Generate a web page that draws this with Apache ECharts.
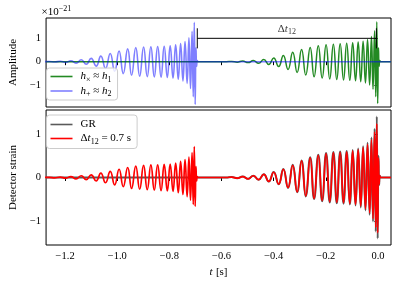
<!DOCTYPE html>
<html><head><meta charset="utf-8">
<script src="https://cdn.jsdelivr.net/npm/echarts@6/dist/echarts.min.js"></script>
<style>html,body{margin:0;padding:0;background:#fff}#c{width:399px;height:284px}</style>
</head><body><div id="c"></div>
<script>
// ---- data ----
const xTicks = [-1.2, -1.0, -0.8, -0.6, -0.4, -0.2, 0.0];
const yTicksTop = [-1, 0, 1];
const yTicksBottom = [-1, 0, 1];
const xMin = -1.273, xMax = 0.05;
const yTopMin = -1.94, yTopMax = 1.87;
const yBotMin = -1.55, yBotMax = 1.55;

// times of successive extrema relative to each merger [s]
const tau = [-0.582, -0.561, -0.540, -0.519, -0.498, -0.478, -0.458, -0.438, -0.419, -0.400,
  -0.381, -0.363, -0.345, -0.327, -0.310, -0.293, -0.277, -0.260, -0.245, -0.229,
  -0.214, -0.199, -0.185, -0.171, -0.158, -0.145, -0.132, -0.120, -0.108, -0.097,
  -0.086, -0.076, -0.066, -0.057, -0.048, -0.040, -0.032, -0.025, -0.019, -0.013,
  -0.0085, -0.0045, -0.001, 0.002, 0.0045, 0.007, 0.010];

// merger times [s]
const mergerH1 = 0.0;
const mergerH2 = -0.7;

// extremum values (units of 1e-21)
const hCross = [0, 0.01, -0.02, 0.03, -0.04, 0.05, -0.07, 0.09, -0.12, 0.16,
  -0.21, 0.27, -0.33, 0.40, -0.46, 0.52, -0.57, 0.61, -0.65, 0.68,
  -0.70, 0.72, -0.74, 0.75, -0.76, 0.77, -0.78, 0.79, -0.80, 0.81,
  -0.82, 0.84, -0.86, 0.88, -0.91, 0.95, -1.00, 1.08, -1.18, 1.32,
  -1.50, 1.71, -1.79, 0.6, -0.2, 0.05, 0];
const hPlus = [0, 0.01, -0.015, 0.02, -0.03, 0.04, -0.06, 0.08, -0.11, 0.14,
  -0.19, 0.24, -0.29, 0.35, -0.41, 0.46, -0.51, 0.55, -0.58, 0.60,
  -0.62, 0.63, -0.64, 0.64, -0.65, 0.65, -0.66, 0.66, -0.67, 0.68,
  -0.70, 0.72, -0.75, 0.78, -0.82, 0.86, -0.93, 1.02, -1.15, 1.30,
  -1.50, 1.69, -1.83, 0.6, -0.2, 0.05, 0];
const strainFirst = [0, 0.005, -0.01, 0.01, -0.015, 0.02, -0.03, 0.04, -0.05, 0.06,
  -0.08, 0.10, -0.12, 0.14, -0.17, 0.19, -0.21, 0.23, -0.25, 0.26,
  -0.27, 0.28, -0.28, 0.29, -0.29, 0.29, -0.30, 0.30, -0.31, 0.31,
  -0.32, 0.33, -0.35, 0.37, -0.39, 0.41, -0.44, 0.47, -0.52, 0.57,
  -0.62, 0.71, -0.66, 0.25, -0.08, 0.02, 0];
const strainSecond = [0, 0.01, -0.015, 0.02, -0.03, 0.04, -0.05, 0.07, -0.09, 0.12,
  -0.15, 0.19, -0.23, 0.28, -0.33, 0.38, -0.42, 0.45, -0.48, 0.51,
  -0.53, 0.55, -0.56, 0.57, -0.57, 0.58, -0.58, 0.59, -0.60, 0.61,
  -0.62, 0.64, -0.66, 0.69, -0.72, 0.76, -0.81, 0.87, -0.95, 1.05,
  -1.15, 1.24, -1.27, 0.45, -0.15, 0.04, 0];
const strainGR = [0, 0.01, -0.015, 0.021, -0.031, 0.042, -0.053, 0.073, -0.094, 0.125,
  -0.155, 0.195, -0.24, 0.29, -0.34, 0.39, -0.435, 0.465, -0.495, 0.525,
  -0.545, 0.565, -0.575, 0.585, -0.59, 0.595, -0.60, 0.61, -0.62, 0.63,
  -0.645, 0.665, -0.69, 0.72, -0.755, 0.80, -0.855, 0.92, -1.01, 1.12,
  -1.24, 1.40, -1.40, 0.5, -0.17, 0.04, 0];

// Delta t annotation
const dtStart = -0.693, dtEnd = -0.006, dtLevel = 1.0, capLow = 0.57, capHigh = 1.43;

// ---- chart ----
const FONT = 'Liberation Serif';
function chirp(tc, vals) { return tau.map((t, i) => [tc + t, vals[i]]); }
const minus = s => String(s).replace('-', '\u2212');
const rich = {
  i: { fontFamily: FONT, fontStyle: 'italic', fontSize: 11, color: '#000' },
  n: { fontFamily: FONT, fontSize: 11, color: '#000' },
  sb: { fontFamily: FONT, fontSize: 8, color: '#000', padding: [6, 0, 0, 0] },
  sp: { fontFamily: FONT, fontSize: 8, color: '#000', padding: [0, 0, 7, 0] }
};
const legendNames = {
  hx: '{i|h}{sb|\u00d7}{n| \u2248 }{i|h}{sb|1}',
  hp: '{i|h}{sb|+}{n| \u2248 }{i|h}{sb|2}',
  gr: '{n|GR}',
  dt: '{n|\u0394}{i|t}{sb|12}{n| = 0.7 s}'
};

const chart = echarts.init(document.getElementById('c'), null, { renderer: 'canvas' });
const axisCommon = {
  type: 'value',
  axisLine: { show: false },
  splitLine: { show: false },
  axisTick: { inside: false, length: 3.5, lineStyle: { color: '#000', width: 1 } },
  axisLabel: { fontFamily: FONT, fontSize: 10.5, color: '#000' }
};
const legendCommon = {
  orient: 'vertical', itemWidth: 22, itemHeight: 1.6, icon: 'rect',
  backgroundColor: 'rgba(255,255,255,0.8)', borderColor: '#ccc', borderWidth: 1, borderRadius: 3,
  textStyle: { fontFamily: FONT, fontSize: 11, color: '#000', rich: rich, padding: [0, 0, 0, 3] },
  formatter: n => legendNames[n], selectedMode: false
};

chart.setOption({
  animation: false,
  backgroundColor: '#fff',
  grid: [
    { left: 41.5, right: 8, top: 18, height: 89, show: true, borderColor: '#000', borderWidth: 1, backgroundColor: 'transparent' },
    { left: 41.5, right: 8, top: 110, height: 135, show: true, borderColor: '#000', borderWidth: 1, backgroundColor: 'transparent' }
  ],
  xAxis: [
    Object.assign({}, axisCommon, { gridIndex: 0, min: xMin, max: xMax,
      axisTick: Object.assign({}, axisCommon.axisTick, { customValues: xTicks }),
      axisLabel: { show: false } }),
    Object.assign({}, axisCommon, { gridIndex: 1, min: xMin, max: xMax,
      axisTick: Object.assign({}, axisCommon.axisTick, { customValues: xTicks }),
      axisLabel: Object.assign({}, axisCommon.axisLabel, { customValues: xTicks, margin: 6, formatter: v => minus(v.toFixed(1)) }),
      name: '{i|t} {n|[s]}', nameLocation: 'middle', nameGap: 21,
      nameTextStyle: { rich: rich } })
  ],
  yAxis: [
    Object.assign({}, axisCommon, { gridIndex: 0, min: yTopMin, max: yTopMax,
      axisTick: Object.assign({}, axisCommon.axisTick, { customValues: yTicksTop }),
      axisLabel: Object.assign({}, axisCommon.axisLabel, { customValues: yTicksTop, margin: 5, formatter: v => minus(v) }),
      name: 'Amplitude', nameLocation: 'middle', nameGap: 27, nameRotate: 90,
      nameTextStyle: { fontFamily: FONT, fontSize: 11, color: '#000' } }),
    Object.assign({}, axisCommon, { gridIndex: 1, min: yBotMin, max: yBotMax,
      axisTick: Object.assign({}, axisCommon.axisTick, { customValues: yTicksBottom }),
      axisLabel: Object.assign({}, axisCommon.axisLabel, { customValues: yTicksBottom, margin: 5, formatter: v => minus(v) }),
      name: 'Detector strain', nameLocation: 'middle', nameGap: 27, nameRotate: 90,
      nameTextStyle: { fontFamily: FONT, fontSize: 11, color: '#000' } })
  ],
  legend: [
    Object.assign({}, legendCommon, { data: ['hx', 'hp'], left: 46.5, top: 68, padding: [3, 6, 2, 4], itemGap: 2 }),
    Object.assign({}, legendCommon, { data: ['gr', 'dt'], left: 46.5, top: 115, padding: [4, 6, 3, 4], itemGap: 3 })
  ],
  graphic: [
    { type: 'text', left: 41.5, top: 5, style: { text: '{n|\u00d710}{sp|\u221221}', rich: rich } }
  ],
  series: [
    { name: 'hx', type: 'line', xAxisIndex: 0, yAxisIndex: 0, symbol: 'none', smooth: 0.5,
      lineStyle: { color: '#238a23', width: 1.5 }, itemStyle: { color: '#238a23' },
      data: [[xMin, 0]].concat(chirp(mergerH1, hCross), [[xMax, 0]]) },
    { name: 'hp', type: 'line', xAxisIndex: 0, yAxisIndex: 0, symbol: 'none', smooth: 0.5,
      lineStyle: { color: '#0000ff', width: 1.6, opacity: 0.5 }, itemStyle: { color: '#8080ff' },
      data: chirp(mergerH2, hPlus).concat([[xMax, 0]]) },
    { type: 'line', xAxisIndex: 0, yAxisIndex: 0, symbol: 'none', silent: true, z: 5,
      lineStyle: { color: '#000', width: 1 }, data: [[dtStart, dtLevel], [dtEnd, dtLevel]] },
    { type: 'line', xAxisIndex: 0, yAxisIndex: 0, symbol: 'none', silent: true, z: 5,
      lineStyle: { color: '#000', width: 1 }, data: [[dtStart, capLow], [dtStart, capHigh]] },
    { type: 'line', xAxisIndex: 0, yAxisIndex: 0, symbol: 'none', silent: true, z: 5,
      lineStyle: { color: '#000', width: 1 }, data: [[dtEnd, capLow], [dtEnd, capHigh]] },
    { type: 'scatter', xAxisIndex: 0, yAxisIndex: 0, symbolSize: 0, silent: true, z: 5,
      data: [[(dtStart + dtEnd) / 2, dtLevel]],
      label: { show: true, position: 'top', distance: 2, formatter: '{n|\u0394}{i|t}{sb|12}', rich: rich } },
    { name: 'gr', type: 'line', xAxisIndex: 1, yAxisIndex: 1, symbol: 'none', smooth: 0.5,
      lineStyle: { color: '#5a5a5a', width: 2 }, itemStyle: { color: '#5a5a5a' },
      data: [[xMin, 0]].concat(chirp(mergerH1, strainGR), [[xMax, 0]]) },
    { name: 'dt', type: 'line', xAxisIndex: 1, yAxisIndex: 1, symbol: 'none', smooth: 0.5,
      lineStyle: { color: '#ff0000', width: 1.7 }, itemStyle: { color: '#ff0000' },
      data: chirp(mergerH2, strainFirst).concat(chirp(mergerH1, strainSecond), [[xMax, 0]]) }
  ]
});
</script></body></html>
